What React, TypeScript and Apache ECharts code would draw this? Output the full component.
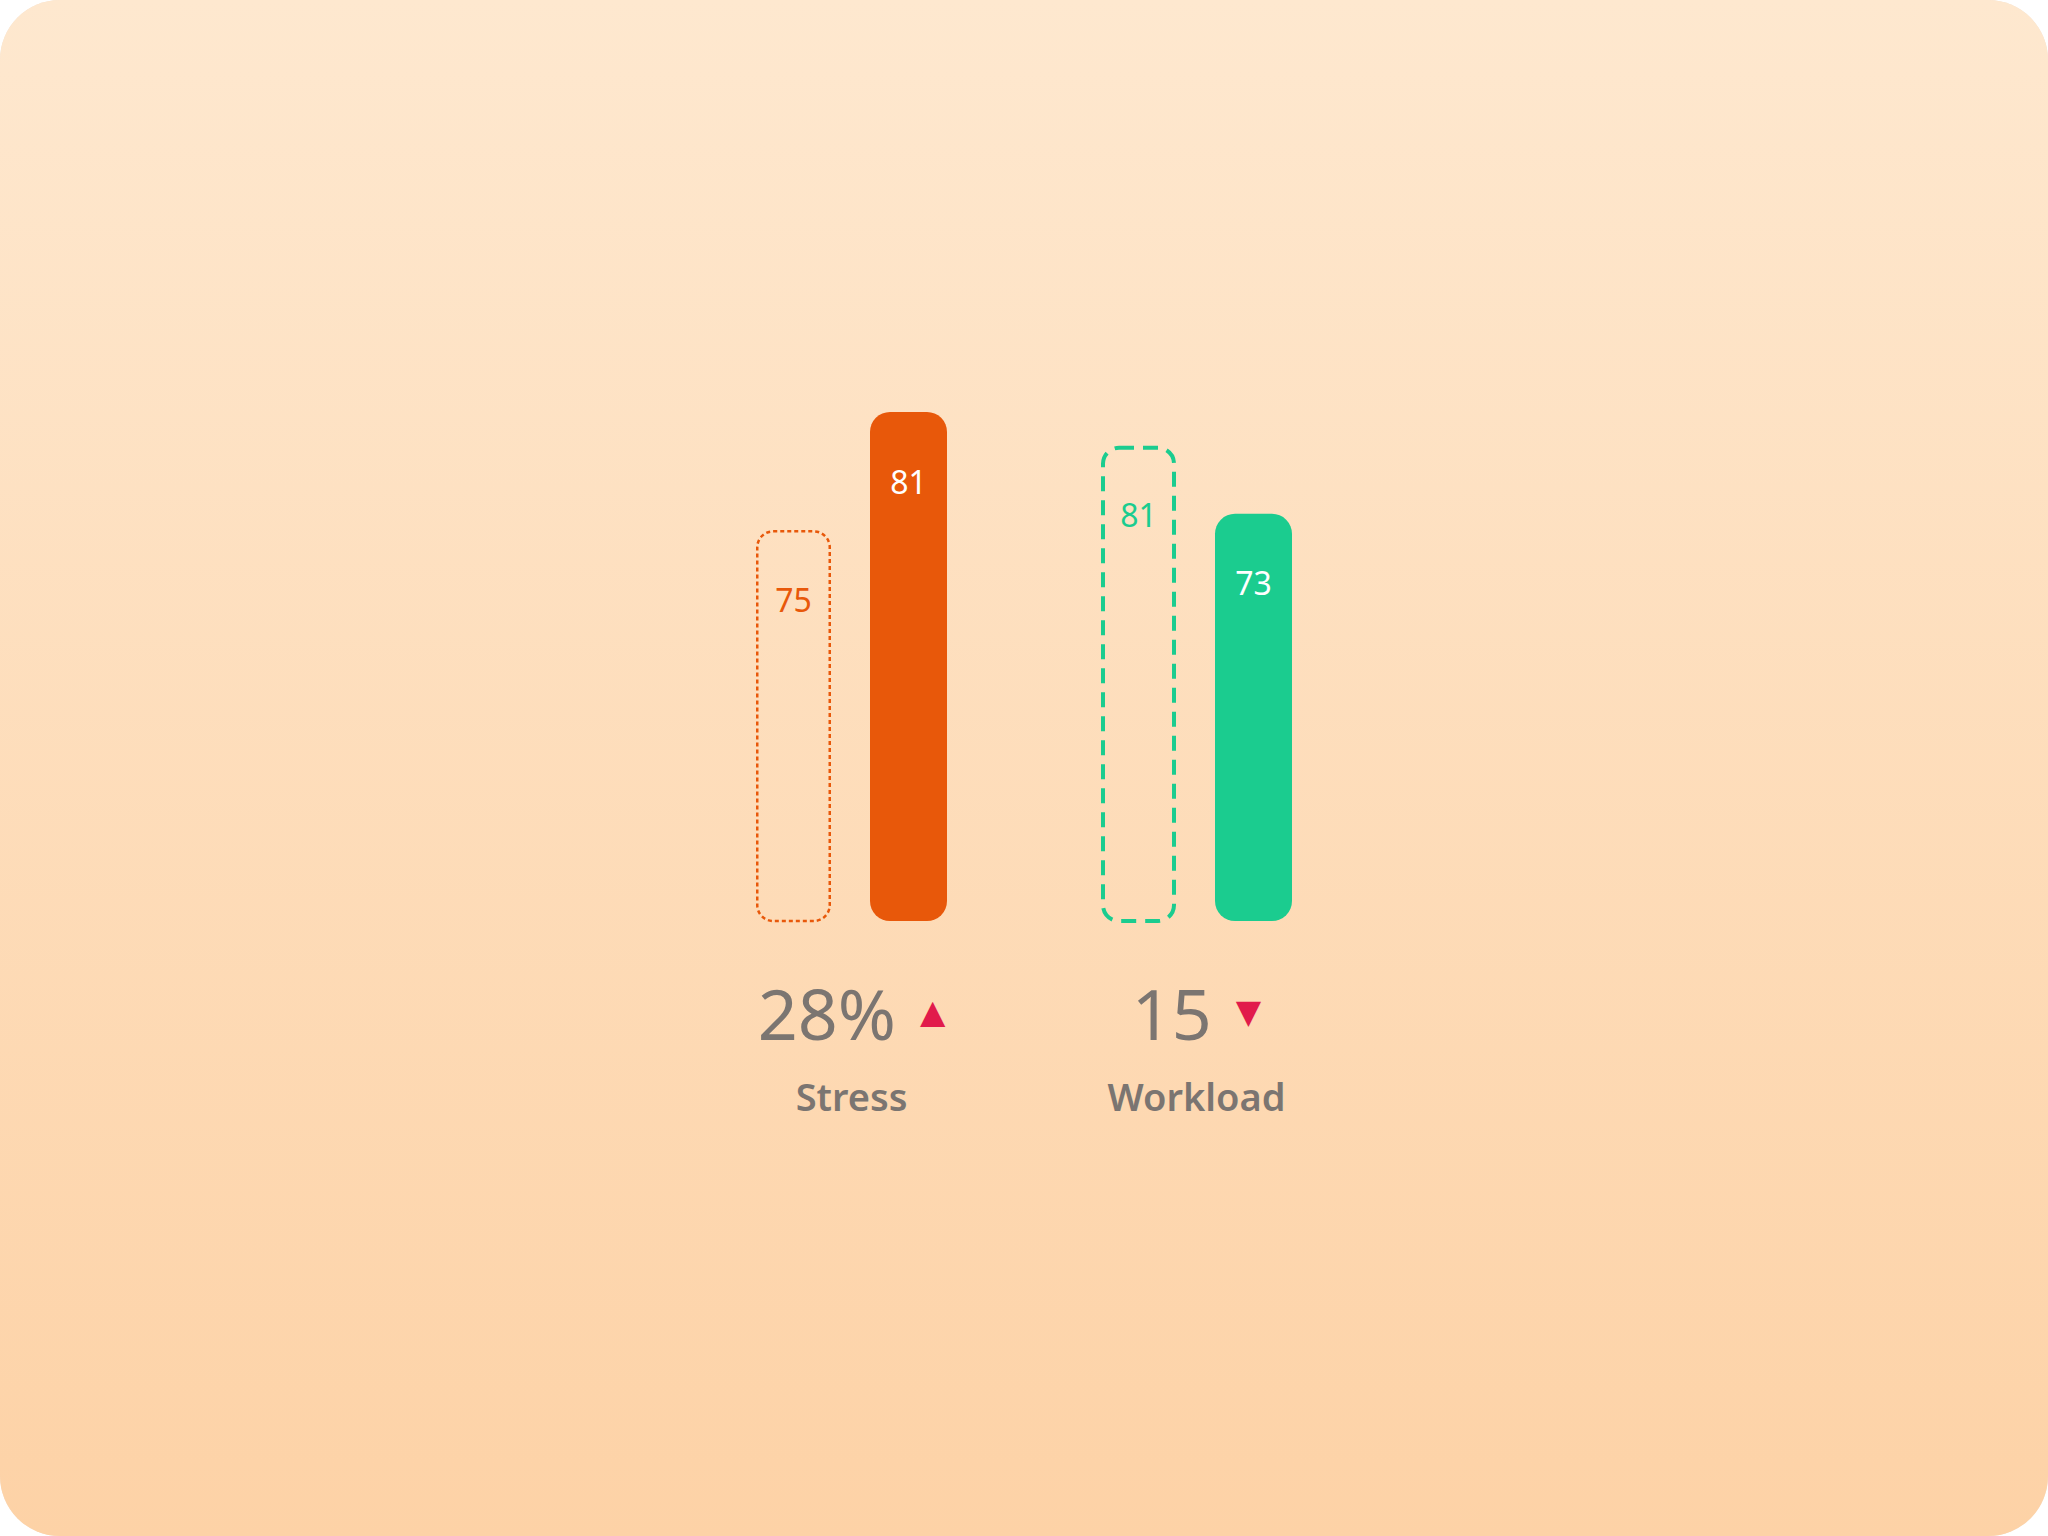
import * as echarts from "echarts";
import { useEffect, useRef } from "react";

// categories and values
const categories = ["Stress", "Workload"];
const previousValues = [75, 81];
const currentValues = [81, 73];
const changeTexts = ["28%", "15"];
const changeDirections = ["up", "down"];
const groupColors = ["#E8580A", "#1BCC8F"];
// dash pattern of the outlined (previous) bars, per group
const dashPatterns = [
  [4, 3],
  [15, 9],
];
const dashWidths = [2.5, 4];

const App = () => {
  const chartRef = useRef<HTMLDivElement | null>(null);

  useEffect(() => {
    const chart = echarts.init(chartRef.current!, null, { renderer: "svg" });

    const option = {
      animation: false,
      backgroundColor: new echarts.graphic.LinearGradient(0, 0, 0, 1, [
        { offset: 0, color: "#FEE8CF" },
        { offset: 1, color: "#FDD2A6" },
      ]),
      grid: { left: 679, width: 690, top: 412, height: 509 },
      xAxis: {
        type: "category",
        data: categories,
        axisLine: { show: false },
        axisTick: { show: false },
        axisLabel: {
          margin: 44,
          formatter: (value: string, idx: number) =>
            `{num|${changeTexts[idx]}}{${changeDirections[idx]}|${
              changeDirections[idx] === "up" ? "▲" : "▼"
            }}\n{name|${value}}`,
          rich: {
            num: {
              fontFamily: "Noto Sans",
              fontSize: 70,
              lineHeight: 96,
              color: "#7B7571",
            },
            up: {
              fontFamily: "DejaVu Sans",
              fontSize: 33,
              color: "#E11B4B",
              padding: [0, 0, 4, 24],
            },
            down: {
              fontFamily: "DejaVu Sans",
              fontSize: 33,
              color: "#E11B4B",
              padding: [0, 0, 4, 24],
            },
            name: {
              fontFamily: "Noto Sans",
              fontSize: 38,
              fontWeight: 600,
              lineHeight: 70,
              color: "#7B7571",
            },
          },
        },
      },
      yAxis: [
        // solid bars
        { type: "value", min: 41, max: 81, show: false },
        // outlined bars
        { type: "value", min: 47.2, max: 83.4, show: false },
      ],
      series: [
        {
          name: "previous",
          type: "bar",
          yAxisIndex: 1,
          barWidth: 75,
          barGap: "52%",
          data: previousValues.map((v, i) => ({
            value: v,
            itemStyle: {
              color: "transparent",
              borderColor: groupColors[i],
              borderWidth: dashWidths[i],
              borderType: dashPatterns[i],
              borderRadius: 16,
            },
            label: { color: groupColors[i] },
          })),
          label: {
            show: true,
            position: "insideTop",
            distance: 52,
            fontFamily: "Noto Sans",
            fontSize: 32,
            lineHeight: 34,
          },
        },
        {
          name: "current",
          type: "bar",
          yAxisIndex: 0,
          barWidth: 77,
          data: currentValues.map((v, i) => ({
            value: v,
            itemStyle: { color: groupColors[i], borderRadius: 20 },
          })),
          label: {
            show: true,
            position: "insideTop",
            distance: 52,
            color: "#FFFFFF",
            fontFamily: "Noto Sans",
            fontSize: 32,
            lineHeight: 34,
          },
        },
      ],
    };

    chart.setOption(option);

    return () => {
      chart.dispose();
    };
  }, []);

  return (
    <div
      style={{
        position: "fixed",
        left: 0,
        top: 0,
        width: 2048,
        height: 1536,
        background: "#FFFFFF",
      }}
    >
      <div
        style={{
          width: 2048,
          height: 1536,
          borderRadius: 60,
          overflow: "hidden",
          boxShadow: "inset 0 0 0 2px rgba(215,170,125,0.35)",
          position: "relative",
        }}
      >
        <div ref={chartRef} style={{ width: 2048, height: 1536 }} />
      </div>
    </div>
  );
};

export default App;
